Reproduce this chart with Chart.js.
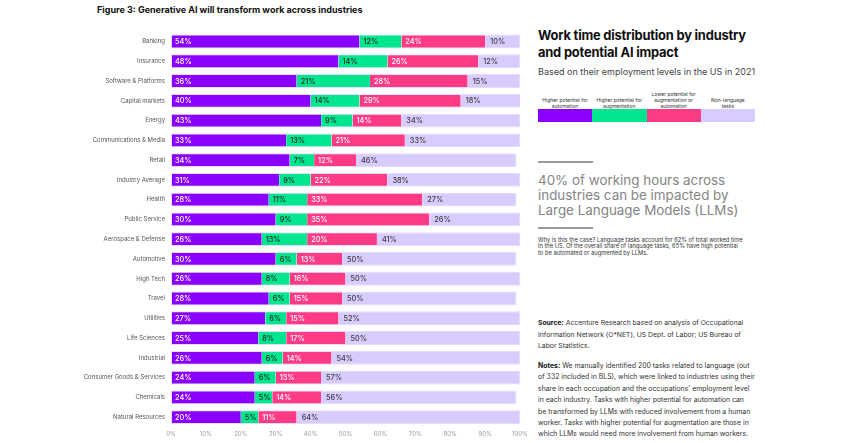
<!DOCTYPE html>
<html>
<head>
<meta charset="utf-8">
<script src="https://cdn.jsdelivr.net/npm/chart.js@4.4.1/dist/chart.umd.min.js"></script>
<style>
  html, body { margin: 0; padding: 0; background: #fff; }
  body { width: 844px; height: 443px; position: relative; overflow: hidden; font-family: "Inter", "Roboto", sans-serif; }
  .abs { position: absolute; white-space: nowrap; }
  #title { left: 97px; top: 4px; font-size: 9px; font-weight: 700; color: #111; }
  #chartBox { left: 0; top: 22px; width: 532px; height: 421px; }
  #rtitle { left: 538px; top: 28px; font-size: 12.9px; font-weight: 700; line-height: 16.5px; color: #111; letter-spacing: -0.2px; }
  #rsub { left: 538px; top: 66px; font-size: 9px; line-height: 12px; color: #444; }
  .leg { position: absolute; top: 85px; width: 54px; height: 24px; display: flex; align-items: flex-end; justify-content: center; text-align: center; font-size: 5px; line-height: 6px; color: #333; }
  .sw { position: absolute; top: 109px; width: 54.5px; height: 13px; }
  .rule { position: absolute; left: 538px; width: 55px; height: 1.5px; background: #9a9a9a; }
  #big { left: 538px; top: 173px; font-size: 13.4px; line-height: 15.2px; color: #858585; }
  #why { left: 538px; top: 237px; font-size: 5.75px; line-height: 6.3px; color: #333; }
  #src { left: 538px; top: 317px; font-size: 6.8px; line-height: 11.5px; color: #333; }
  #notes { left: 538px; top: 360px; font-size: 6.9px; line-height: 11.4px; color: #333; }
  b { color: #111; }
</style>
</head>
<body>
<div class="abs" id="title">Figure 3: Generative AI will transform work across industries</div>
<div class="abs" id="chartBox"><canvas id="barChart"></canvas></div>

<div class="abs" id="rtitle">Work time distribution by industry<br>and potential AI impact</div>
<div class="abs" id="rsub">Based on their employment levels in the US in 2021</div>
<div id="legend"></div>

<div class="rule" style="top:161px"></div>
<div class="abs" id="big">40% of working hours across<br>industries can be impacted by<br>Large Language Models (LLMs)</div>
<div class="rule" style="top:227px"></div>
<div class="abs" id="why">Why is this the case? Language tasks account for 62% of total worked time<br>in the US. Of the overall share of language tasks, 65% have high potential<br>to be automated or augmented by LLMs.</div>
<div class="abs" id="src"><b>Source:</b> Accenture Research based on analysis of Occupational<br>Information Network (O*NET), US Dept. of Labor; US Bureau of<br>Labor Statistics.</div>
<div class="abs" id="notes"><b>Notes:</b> We manually identified 200 tasks related to language (out<br>of 332 included in BLS), which were linked to industries using their<br>share in each occupation and the occupations' employment level<br>in each industry. Tasks with higher potential for automation can<br>be transformed by LLMs with reduced involvement from a human<br>worker. Tasks with higher potential for augmentation are those in<br>which LLMs would need more involvement from human workers.</div>

<script>
  // Данные
  const industries = ["Banking", "Insurance", "Software & Platforms", "Capital markets", "Energy",
    "Communications & Media", "Retail", "Industry Average", "Health", "Public Service",
    "Aerospace & Defense", "Automotive", "High Tech", "Travel", "Utilities", "Life Sciences",
    "Industrial", "Consumer Goods & Services", "Chemicals", "Natural Resources"];
  const automation   = [54, 48, 36, 40, 43, 33, 34, 31, 28, 30, 26, 30, 26, 28, 27, 25, 26, 24, 24, 20];
  const augmentation = [12, 14, 21, 14, 9, 13, 7, 9, 11, 9, 13, 6, 8, 6, 6, 8, 6, 6, 5, 5];
  const lowerPotential = [24, 26, 28, 29, 14, 21, 12, 22, 33, 35, 20, 13, 16, 15, 15, 17, 14, 13, 14, 11];
  const nonLanguage  = [10, 12, 15, 18, 34, 33, 46, 38, 27, 26, 41, 50, 50, 50, 52, 50, 54, 57, 56, 64];
  const xTicks = [0, 10, 20, 30, 40, 50, 60, 70, 80, 90, 100];

  const seriesNames = ["Higher potential for<br>automation", "Higher potential for<br>augmentation",
    "Lower potential for<br>augmentation or<br>automation", "Non-language<br>tasks"];
  const colors = ["#8a00ff", "#00e68e", "#ff3b86", "#d8ccff"];
  const labelColors = ["#ffffff", "#1f1f1f", "#ffffff", "#3a3a3a"];

  // легенда справа
  const legend = document.getElementById("legend");
  seriesNames.forEach((name, i) => {
    const left = 538 + i * 54.3;
    legend.insertAdjacentHTML("beforeend",
      `<div class="leg" style="left:${left}px">${name}</div>` +
      `<div class="sw" style="left:${left}px;background:${colors[i]}"></div>`);
  });

  // подписи внутри сегментов
  const segmentLabels = {
    id: "segmentLabels",
    afterDatasetsDraw(chart) {
      const ctx = chart.ctx;
      ctx.save();
      ctx.font = "500 7.3px Inter, Roboto, sans-serif";
      ctx.textBaseline = "middle";
      ctx.textAlign = "left";
      chart.data.datasets.forEach((ds, di) => {
        chart.getDatasetMeta(di).data.forEach((bar, i) => {
          ctx.fillStyle = labelColors[di];
          const pad = di === 3 ? 5 : 4;
          ctx.fillText(ds.data[i] + "%", bar.base + pad, bar.y + 0.5);
        });
      });
      ctx.restore();
    }
  };

  const dataArrays = [automation, augmentation, lowerPotential, nonLanguage];
  const names = ["Higher potential for automation", "Higher potential for augmentation",
    "Lower potential for augmentation or automation", "Non-language tasks"];

  new Chart(document.getElementById("barChart"), {
    type: "bar",
    data: {
      labels: industries,
      datasets: dataArrays.map((d, i) => ({
        label: names[i],
        data: d,
        backgroundColor: colors[i],
        borderColor: "#e4dcff",
        borderWidth: { top: 1, bottom: 1, left: i === 0 ? 1 : 0, right: i === 3 ? 1 : 0 },
        borderSkipped: false,
        barPercentage: 0.7,
        categoryPercentage: 1
      }))
    },
    options: {
      indexAxis: "y",
      responsive: true,
      maintainAspectRatio: false,
      animation: false,
      layout: { padding: { left: 0, right: 6.5, top: 0, bottom: 0 } },
      plugins: { legend: { display: false }, tooltip: { enabled: false } },
      scales: {
        x: {
          stacked: true,
          min: 0,
          max: 100,
          grid: { display: false, drawTicks: false },
          border: { display: false },
          afterBuildTicks: (scale) => { scale.ticks = xTicks.map(v => ({ value: v })); },
          afterFit: (scale) => { scale.height = 16; },
          ticks: { padding: 4, color: "#9a9a9a", font: { size: 6, family: "Inter" }, callback: v => v + "%" }
        },
        y: {
          stacked: true,
          grid: { display: false, drawTicks: false },
          border: { display: false },
          afterFit: (scale) => { scale.width = 171; },
          ticks: { padding: 6, color: "#555", font: { size: 6, family: "Inter" }, autoSkip: false }
        }
      }
    },
    plugins: [segmentLabels]
  });
</script>
</body>
</html>
